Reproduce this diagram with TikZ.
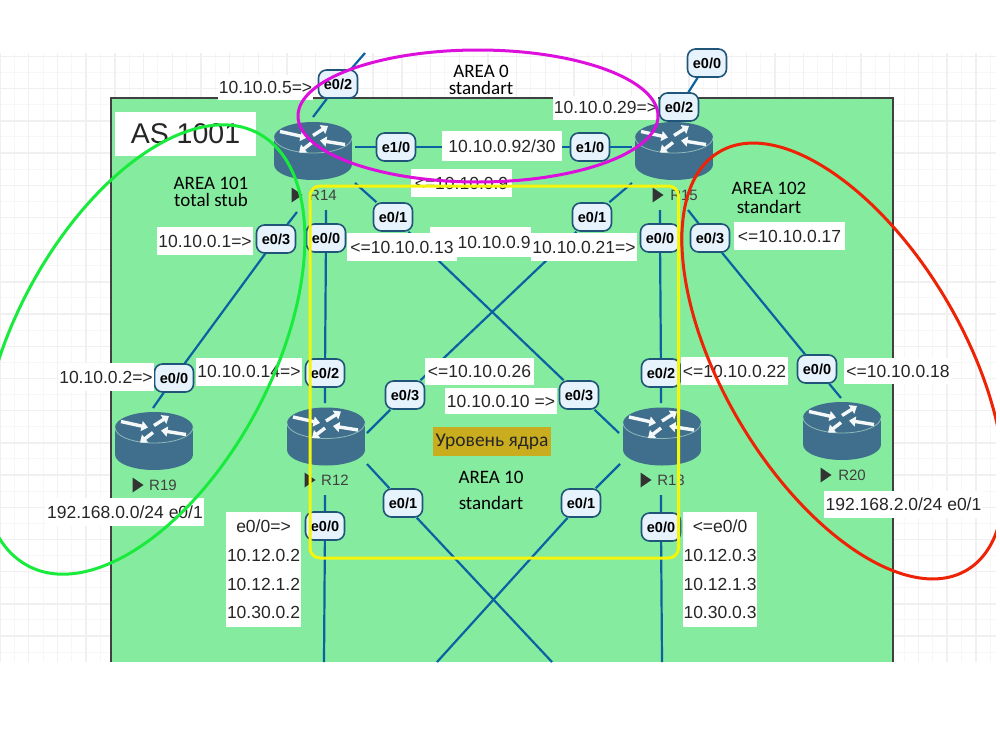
\documentclass[tikz,border=0pt]{standalone}
\usepackage{fontspec}
\setmainfont{Liberation Sans}
\newfontfamily\areafont{Carlito}
\usetikzlibrary{arrows.meta}
\definecolor{zone}{HTML}{85EB9F}
\definecolor{wire}{HTML}{0B62A3}
\definecolor{rbody}{HTML}{3F6F8C}
\definecolor{rrim}{HTML}{8FB8B8}
\definecolor{portfill}{HTML}{E6F2FC}
\definecolor{portedge}{HTML}{1F5578}
\definecolor{corefill}{HTML}{C9AD1E}
\newcommand{\routericon}{
\begin{scope}[shift={(path picture bounding box.center)}]
\fill[rbody] (-39,-13.5) rectangle (39,13.5);
\fill[rbody] (0,13.5) ellipse [x radius=39pt, y radius=15.5pt];
\fill[rbody] (0,-13.5) ellipse [x radius=39pt, y radius=15.5pt];
\draw[rrim, line width=0.8pt] (-39,-13.5) arc [start angle=180, end angle=360, x radius=39pt, y radius=15.5pt];
\draw[routerarrow] (-33,-19.5) -- (-6,-13.5);
\draw[routerarrow] (0,-15.5) -- (15,-25);
\draw[routerarrow] (32,-6.5) -- (7,-10.5);
\draw[routerarrow] (-1,-8.5) -- (-14,1.5);
\end{scope}
}
\newcommand{\rtri}[2]{\fill[black!80] (#1-5.5,#2-7.5) -- (#1+5.5,#2) -- (#1-5.5,#2+7.5) -- cycle;}
\tikzstyle{routerarrow} = [white!95!rbody, line width=3.4pt, -{Triangle[length=6.5pt,width=10pt]}]
\tikzstyle{router} = [minimum width=78pt, minimum height=58pt, inner sep=0pt, outer sep=3pt, path picture={\routericon}]
\tikzstyle{rname} = [inner sep=0pt, text=black!75, font=\fontsize{15}{18}\selectfont]
\tikzstyle{port} = [draw=portedge, line width=1.6pt, fill=portfill, rounded corners=8pt, minimum width=39pt, minimum height=28pt, inner sep=0pt, font=\bfseries\fontsize{14.5}{17}\selectfont]
\tikzstyle{link} = [wire, line width=2.2pt]
\tikzstyle{addr} = [fill=white, inner sep=0pt, text=black!85, align=center, font=\fontsize{17.5}{21}\selectfont]
\tikzstyle{area} = [inner sep=0pt, align=center, font=\areafont\fontsize{19}{17}\selectfont]
\tikzstyle{ring} = [line width=3pt]
\begin{document}
\begin{tikzpicture}[x=1pt, y=-1pt]
\useasboundingbox (0,0) rectangle (1000,750);

% paper grid
\draw[black!3, line width=1pt, xstep=14.35pt, ystep=16.1pt, yshift=8pt] (0,61) grid (996,670);
\draw[black!6, line width=1.4pt, xstep=28.7pt, ystep=32.2pt, yshift=8pt] (0,61) grid (996,670);

% AS 1001 zone
\fill[zone] (111,98) rectangle (893,662);
\draw[black!75, line width=1.4pt] (111,662) -- (111,98) -- (893,98) -- (893,662);

% routers
\node[router] (R14) at (313,151) {};
\node[router] (R15) at (674,151) {};
\node[router] (R12) at (326,436.5) {};
\node[router] (R13) at (662,436.5) {};
\node[router] (R19) at (154,441) {};
\node[router] (R20) at (842,431) {};

% router names
\rtri{297}{195}
\node[rname] (R14name) at (323,195) {R14};
\rtri{658}{195}
\node[rname] (R15name) at (684,195) {R15};
\rtri{310}{480}
\node[rname] (R12name) at (335,480) {R12};
\rtri{646}{480}
\node[rname] (R13name) at (671,480) {R13};
\rtri{138}{485}
\node[rname] (R19name) at (163,485) {R19};
\rtri{826}{475}
\node[rname] (R20name) at (852,475) {R20};

% ports
\node[port] (R14e02) at (338,84) {e0/2};
\node[port] (R14e10) at (396,147) {e1/0};
\node[port] (R14e01) at (393,217) {e0/1};
\node[port] (R14e00) at (326,238) {e0/0};
\node[port] (R14e03) at (276,239) {e0/3};
\node[port] (R15e00top) at (707,63) {e0/0};
\node[port] (R15e02) at (679,107) {e0/2};
\node[port] (R15e10) at (590,147) {e1/0};
\node[port] (R15e01) at (592,217) {e0/1};
\node[port] (R15e00) at (660,238) {e0/0};
\node[port] (R15e03) at (710,238) {e0/3};
\node[port] (R12e02) at (325,373) {e0/2};
\node[port] (R12e03) at (405,395) {e0/3};
\node[port] (R12e01) at (403,503) {e0/1};
\node[port] (R12e00) at (325,526) {e0/0};
\node[port] (R13e02) at (661,373) {e0/2};
\node[port] (R13e03) at (579,395) {e0/3};
\node[port] (R13e01) at (581,503) {e0/1};
\node[port] (R13e00) at (661,527) {e0/0};
\node[port] (R19e00) at (174,378) {e0/0};
\node[port] (R20e00) at (817,369) {e0/0};

% free ends of the links
\coordinate (upR14) at (365,53);
\coordinate (topR14) at (313,117);
\coordinate (swR14) at (297,212);
\coordinate (sR14) at (326,210);
\coordinate (sR15) at (660,210);
\coordinate (seR15) at (688,210);
\coordinate (topR12) at (325,403);
\coordinate (neR12) at (367,433);
\coordinate (seR12) at (367,464);
\coordinate (sR12) at (325,495);
\coordinate (downR12) at (324,662);
\coordinate (crossR12) at (552,662);
\coordinate (topR13) at (661,403);
\coordinate (nwR13) at (619,433);
\coordinate (swR13) at (620,464);
\coordinate (sR13) at (661,495);
\coordinate (downR13) at (662,662);
\coordinate (crossR13) at (437,662);
\coordinate (topR19) at (153,408);
\coordinate (topR20) at (841,398);

% links
\draw[link] (topR14) -- (R14e02) -- (upR14);
\draw[link] (R14.east |- R14e10) -- (R14e10) -- (R15e10) -- (R15.west |- R15e10);
\draw[link] (R14.south east) -- (R14e01) -- (R13e03) -- (nwR13);
\draw[link] (R15.south west) -- (R15e01) -- (R12e03) -- (neR12);
\draw[link] (sR14) -- (R14e00) -- (R12e02) -- (topR12);
\draw[link] (sR15) -- (R15e00) -- (R13e02) -- (topR13);
\draw[link] (swR14) -- (R14e03) -- (R19e00) -- (topR19);
\draw[link] (seR15) -- (R15e03) -- (R20e00) -- (topR20);
\draw[link] (R15e00top) -- (R15e02);
\draw[link] (sR12) -- (R12e00) -- (downR12);
\draw[link] (sR13) -- (R13e00) -- (downR13);
\draw[link] (seR12) -- (R12e01) -- (crossR12);
\draw[link] (swR13) -- (R13e01) -- (crossR13);

% addresses
\node[addr, minimum width=95pt, minimum height=25pt] (a5) at (265.5,87.5) {10.10.0.5=>};
\node[addr, minimum width=141pt, minimum height=44pt, font=\fontsize{28.5}{32}\selectfont] (as) at (185.5,134) {AS 1001};
\node[addr, minimum width=120pt, minimum height=30pt] (a92) at (502,146) {10.10.0.92/30};
\node[addr, minimum width=101pt, minimum height=28pt] (a9up) at (461.5,183) {<=10.10.0.9};
\node[addr, minimum width=105pt, minimum height=24pt] (a29) at (605.5,107.5) {10.10.0.29=>};
\node[addr, minimum width=96pt, minimum height=28pt] (a1) at (205,241) {10.10.0.1=>};
\node[addr, minimum height=30pt, text width=101pt, align=right] (a9) at (480,242) {10.10.0.9};
\node[addr, minimum width=110pt, minimum height=28pt] (a13) at (402,247) {<=10.10.0.13};
\node[addr, minimum width=106pt, minimum height=28pt] (a21) at (584,247) {10.10.0.21=>};
\node[addr, minimum width=111pt, minimum height=28pt] (a17) at (789.5,236) {<=10.10.0.17};
\node[addr, minimum width=109pt, minimum height=27pt] (a26) at (479.5,371.5) {<=10.10.0.26};
\node[addr, minimum width=112pt, minimum height=26pt] (a10) at (501,401) {10.10.0.10 =>};
\node[addr, minimum width=107pt, minimum height=28pt] (a22) at (734.5,371) {<=10.10.0.22};
\node[addr, minimum width=108pt, minimum height=26pt] (a18) at (898,371) {<=10.10.0.18};
\node[addr, minimum width=106pt, minimum height=28pt] (a14) at (249,371.5) {10.10.0.14=>};
\node[addr, minimum width=96pt, minimum height=28pt] (a2) at (106,377) {10.10.0.2=>};
\node[addr, minimum width=158pt, minimum height=28pt] (net19) at (125,512) {192.168.0.0/24 e0/1};
\node[addr, minimum width=159pt, minimum height=27pt] (net20) at (903.5,504.5) {192.168.2.0/24 e0/1};
\node[addr, minimum width=75pt, minimum height=115pt, font=\fontsize{17.5}{28.7}\selectfont] (ipR12) at (263.5,569.5) {e0/0=>\\10.12.0.2\\10.12.1.2\\10.30.0.2};
\node[addr, minimum width=74pt, minimum height=115pt, font=\fontsize{17.5}{28.7}\selectfont] (ipR13) at (720,569.5) {<=e0/0\\10.12.0.3\\10.12.1.3\\10.30.0.3};

% core label and areas
\node[fill=corefill, inner sep=0pt, minimum width=118pt, minimum height=29pt, text=black!85, font=\areafont\fontsize{19.5}{22}\selectfont] (core) at (492,441.5) {Уровень ядра};
\node[area] (area0) at (481,79.5) {AREA 0\\standart};
\node[area] (area101) at (211,191.5) {AREA 101\\total stub};
\node[area] (area102) at (769,198) {AREA 102\\[2pt]standart};
\node[area] (area10) at (491,490) {AREA 10\\[9pt]standart};

% area outlines
\draw[ring, rounded corners=10pt, draw={rgb,255:red,245;green,245;blue,10}] (310,186) rectangle (678.5,558);
\draw[ring, draw={rgb,255:red,220;green,15;blue,220}] (478,116) ellipse [x radius=180pt, y radius=66pt];
\draw[ring, draw={rgb,255:red,25;green,235;blue,60}, rotate around={-28:(143,349.5)}] (143,349.5) ellipse [x radius=129pt, y radius=245pt];
\draw[ring, draw={rgb,255:red,238;green,35;blue,5}, rotate around={30.6:(843,361)}] (843,361) ellipse [x radius=120pt, y radius=243pt];

% right strip of the page
\fill[white] (996,0) rectangle (1000,750);

\end{tikzpicture}
\end{document}
